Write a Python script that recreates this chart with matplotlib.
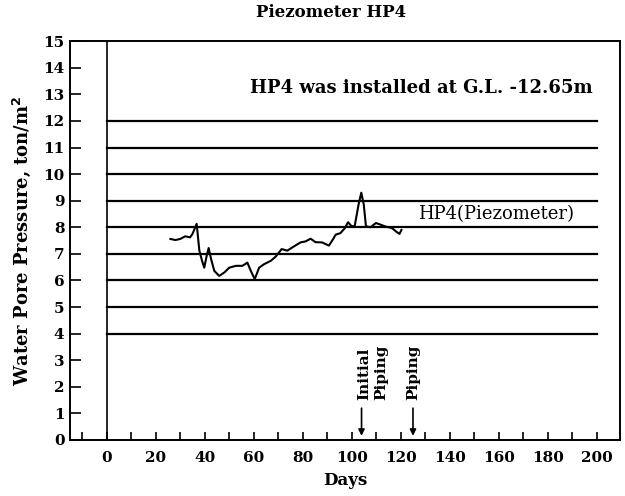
import matplotlib
matplotlib.use('Agg')
import matplotlib.pyplot as plt
from matplotlib.ticker import MultipleLocator

plt.rcParams['font.family'] = 'DejaVu Serif'
plt.rcParams['font.weight'] = 'bold'

# HP4 readings
days = [26, 28, 30, 32, 34, 35, 36.7, 37.8, 38.9, 39.8, 40.8, 41.6, 42.6, 43.9,
        45.9, 48, 50, 52.7, 55.4, 57.4, 58.8, 60.4, 62.2, 64.2, 67, 69, 71.4,
        73.7, 76.4, 79.1, 81.2, 83.2, 85.2, 87.9, 90.7, 92.7, 93.4, 95.4, 97.2,
        98.5, 99.9, 101.2, 102.8, 103.9, 104.9, 105.8, 107.6, 109.9, 111.7,
        113.7, 116.4, 118.4, 119.5, 120.3]
pressure = [7.56, 7.52, 7.56, 7.66, 7.62, 7.75, 8.13, 7.12, 6.74, 6.48, 6.93,
            7.22, 6.80, 6.36, 6.17, 6.30, 6.48, 6.55, 6.55, 6.67, 6.36, 6.05,
            6.48, 6.61, 6.74, 6.90, 7.18, 7.12, 7.28, 7.43, 7.47, 7.57, 7.44,
            7.43, 7.31, 7.60, 7.72, 7.78, 7.97, 8.19, 8.04, 8.04, 8.86, 9.30,
            8.86, 8.04, 8.00, 8.16, 8.10, 8.03, 7.97, 7.82, 7.75, 7.90]

ref_levels = [4, 5, 6, 7, 8, 9, 10, 11, 12]
events = [104, 125]
event_labels = ['Initial\nPiping', 'Piping']

fig = plt.figure(figsize=(6.25, 4.96), dpi=100)
ax = fig.add_axes([0.112, 0.113, 0.880, 0.804])

# reference lines
for lv in ref_levels:
    ax.plot([0, 200], [lv, lv], color='black', lw=1.6)
ax.axvline(0, color='black', lw=1.2)

ax.plot(days, pressure, color='black', lw=1.5)

# piping events
for d, lab in zip(events, event_labels):
    ax.annotate('', xy=(d, 0.05), xytext=(d, 1.3),
                arrowprops=dict(arrowstyle='-|>', color='black', lw=1.2,
                                mutation_scale=9))
    ax.text(d + (4.5 if '\n' in lab else 0), 1.5, lab, rotation=90,
            ha='center', va='bottom', fontsize=11, multialignment='left',
            linespacing=1.25)

ax.text(198.5, 13.25, 'HP4 was installed at G.L. -12.65m', ha='right',
        va='center', fontsize=13, fontweight='bold')
ax.text(127, 8.5, 'HP4(Piezometer)', ha='left', va='center', fontsize=13,
        fontweight='normal')

ax.set_xlim(-15, 209.5)
ax.set_ylim(0, 15)
ax.xaxis.set_minor_locator(MultipleLocator(10))
ax.yaxis.set_major_locator(MultipleLocator(1))
ax.set_xticks(range(0, 201, 20))
ax.tick_params(axis='x', which='both', direction='in', length=6, width=1.2,
               labelsize=11, pad=8)
ax.tick_params(axis='y', direction='in', length=8, width=1.2, labelsize=11,
               pad=4)
for lbl in ax.get_xticklabels() + ax.get_yticklabels():
    lbl.set_fontweight('bold')
for sp in ax.spines.values():
    sp.set_linewidth(1.4)

ax.set_xlabel('Days', fontsize=12, fontweight='bold', labelpad=5)
ax.set_ylabel('Water Pore Pressure, ton/m$^2$', fontsize=13,
              fontweight='bold', labelpad=7)
fig.text(0.53, 0.975, 'Piezometer HP4', ha='center', va='center',
         fontsize=12, fontweight='bold')

fig.savefig('out.png', dpi=100)
